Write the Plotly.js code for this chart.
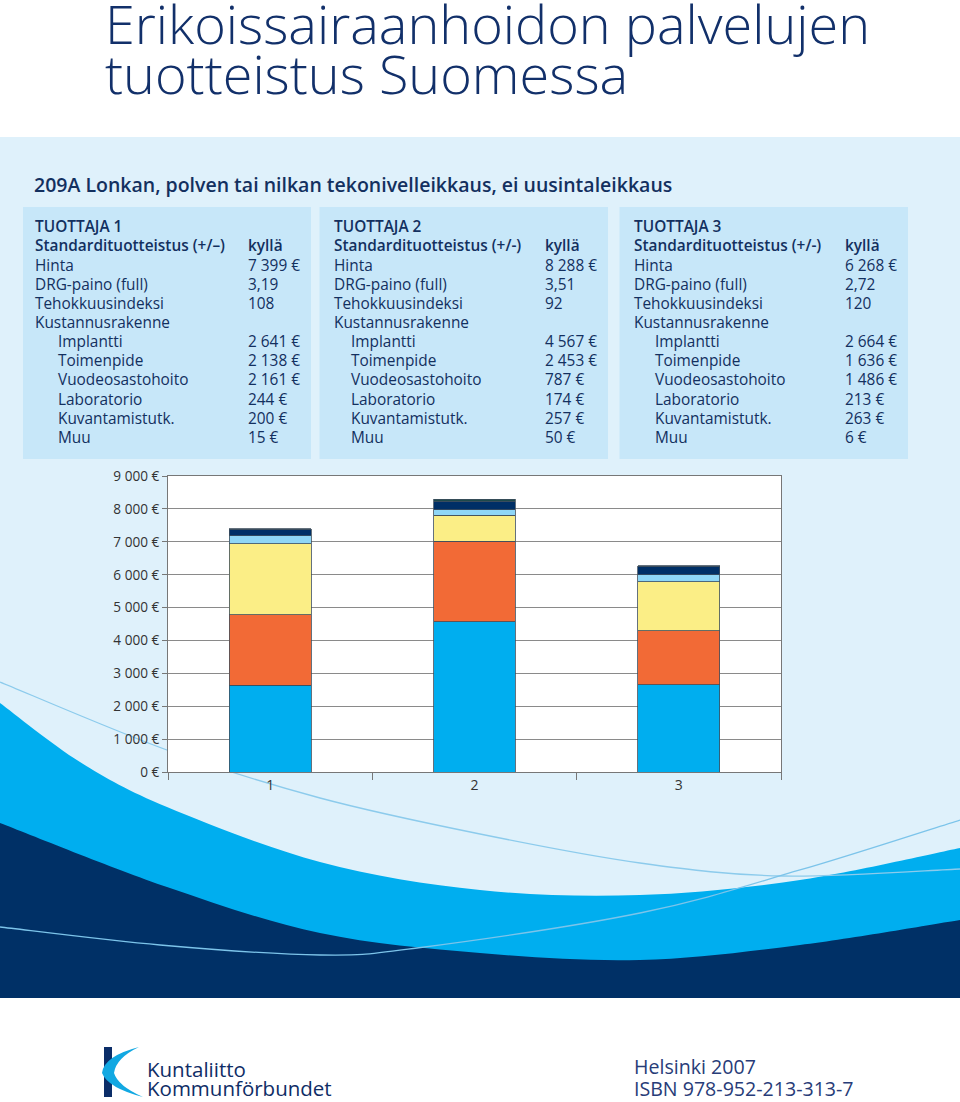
<!DOCTYPE html>
<html>
<head>
<meta charset="utf-8">
<script src="https://cdn.plot.ly/plotly-3.0.1.min.js"></script>
<style>html,body{margin:0;padding:0;background:#fff;}#chart{width:960px;height:1102px;}</style>
</head>
<body>
<div id="chart"></div>
<script>
// ---------- DATA ----------
const categories = ['1', '2', '3'];
const producers = ['TUOTTAJA 1', 'TUOTTAJA 2', 'TUOTTAJA 3'];
const seriesNames = ['Implantti', 'Toimenpide', 'Vuodeosastohoito', 'Laboratorio', 'Kuvantamistutk.', 'Muu'];
const implantti = [2641, 4567, 2664];
const toimenpide = [2138, 2453, 1636];
const vuodeosastohoito = [2161, 787, 1486];
const laboratorio = [244, 174, 213];
const kuvantamistutk = [200, 257, 263];
const muu = [15, 50, 6];
const hinta = [7399, 8288, 6268];
const drgPaino = ['3,19', '3,51', '2,72'];
const tehokkuusindeksi = ['108', '92', '120'];
const standardiLabel = ['Standardituotteistus (+/–)', 'Standardituotteistus (+/-)', 'Standardituotteistus (+/-)'];
const standardiValue = ['kyllä', 'kyllä', 'kyllä'];
const seriesValues = [implantti, toimenpide, vuodeosastohoito, laboratorio, kuvantamistutk, muu];
const seriesColors = ['#00aeef', '#f26a36', '#fbee86', '#8fd6f6', '#002f66', '#1d4a4c'];

// ---------- HELPERS ----------
const W = 960, H = 1102;
const X = px => px / W;
const Y = py => 1 - py / H;
const P = (p) => X(p[0]).toFixed(5) + ',' + Y(p[1]).toFixed(5);
const fmtEur = n => String(n).replace(/\B(?=(\d{3})+(?!\d))/g, ' ') + ' €';
function smooth(pts) {
  let d = 'M' + P(pts[0]);
  for (let i = 0; i < pts.length - 1; i++) {
    const p0 = pts[i - 1] || pts[i], p1 = pts[i], p2 = pts[i + 1], p3 = pts[i + 2] || pts[i + 1];
    const c1 = [p1[0] + (p2[0] - p0[0]) / 6, p1[1] + (p2[1] - p0[1]) / 6];
    const c2 = [p2[0] - (p3[0] - p1[0]) / 6, p2[1] - (p3[1] - p1[1]) / 6];
    d += ' C' + P(c1) + ' ' + P(c2) + ' ' + P(p2);
  }
  return d;
}

const navy = '#13305f';
const shapes = [];
// page background band
shapes.push({type: 'rect', xref: 'paper', yref: 'paper', x0: 0, x1: 1, y0: Y(998), y1: Y(137),
  fillcolor: '#dff1fb', line: {width: 0}, layer: 'below'});
// info boxes
const boxL = [23, 319.5, 619.5], boxR = [311, 608, 908];
for (let i = 0; i < 3; i++) {
  shapes.push({type: 'rect', xref: 'paper', yref: 'paper', x0: X(boxL[i]), x1: X(boxR[i]), y0: Y(459), y1: Y(207),
    fillcolor: '#c7e7f9', line: {width: 0}, layer: 'below'});
}
// waves
const medTop = [[0, 703], [80, 762], [167, 807], [320, 862], [480, 890], [640, 895], [800, 880], [960, 848]];
const darkTop = [[0, 823], [167, 887], [320, 933], [480, 953], [640, 960], [800, 945], [960, 920]];
shapes.push({type: 'path', xref: 'paper', yref: 'paper', layer: 'below',
  path: smooth(medTop) + ' L' + P([960, 998]) + ' L' + P([0, 998]) + ' Z', fillcolor: '#00aeef', line: {width: 0}});
shapes.push({type: 'path', xref: 'paper', yref: 'paper', layer: 'below',
  path: smooth(darkTop) + ' L' + P([960, 998]) + ' L' + P([0, 998]) + ' Z', fillcolor: '#003066', line: {width: 0}});
const line1 = [[0, 682], [167, 750], [320, 798], [480, 834], [640, 863], [783, 876], [960, 869]];
const line2 = [[0, 927], [160, 945], [320, 955], [417, 948], [640, 913], [800, 870], [960, 820]];
shapes.push({type: 'path', xref: 'paper', yref: 'paper', layer: 'below', path: smooth(line1), line: {color: '#8ccbec', width: 1.3}});
shapes.push({type: 'path', xref: 'paper', yref: 'paper', layer: 'below', path: smooth(line2), line: {color: '#7cc4ea', width: 1.3}});
// logo
shapes.push({type: 'rect', xref: 'paper', yref: 'paper', x0: X(104), x1: X(112), y0: Y(1097), y1: Y(1047),
  fillcolor: '#0b2d68', line: {width: 0}, layer: 'below'});
shapes.push({type: 'path', xref: 'paper', yref: 'paper', layer: 'below',
  path: 'M' + P([139, 1047]) + ' Q' + P([104, 1056]) + ' ' + P([102, 1073]) + ' Q' + P([108, 1088]) + ' ' + P([143, 1097]) +
        ' Q' + P([118, 1086]) + ' ' + P([114, 1073]) + ' Q' + P([116, 1058]) + ' ' + P([139, 1047]) + ' Z',
  fillcolor: '#12a8e2', line: {width: 0}});
// white plot background (below grid)
shapes.push({type: 'rect', xref: 'x', yref: 'y', x0: -0.5, x1: 2.5, y0: 0, y1: 9000,
  fillcolor: '#ffffff', line: {width: 0}, layer: 'below'});

// ---------- ANNOTATIONS ----------
const ann = [];
function txt(text, x, baseline, size, opts) {
  opts = opts || {};
  ann.push(Object.assign({
    text: text, xref: 'paper', yref: 'paper', x: X(x), y: Y(baseline - 0.388 * size),
    xanchor: 'left', yanchor: 'middle', showarrow: false, borderpad: 0,
    font: {family: opts.family || 'Open Sans, Noto Sans, sans-serif', size: size, color: opts.color || navy, weight: opts.weight || 400}
  }, opts.extra || {}));
}
// title line 1: clip empty space above ascenders so the box stays inside the page
(function () {
  const fsT = 54, base = 45;
  const bottom = base + 0.293 * fsT;
  ann.push({text: 'Erikoissairaanhoidon palvelujen', xref: 'paper', yref: 'paper', x: X(104), y: Y(bottom),
    xanchor: 'left', yanchor: 'bottom', valign: 'bottom', height: Math.round(bottom - 3), showarrow: false, borderpad: 0,
    font: {family: 'Open Sans, Noto Sans, sans-serif', size: fsT, color: '#12306a', weight: 300}});
})();
txt('tuotteistus Suomessa', 104, 93.5, 54, {weight: 300, color: '#12306a'});
txt('209A Lonkan, polven tai nilkan tekonivelleikkaus, ei uusintaleikkaus', 33, 191.7, 19.5, {weight: 600});

const labelX = [34, 333, 633], indentX = [57, 350, 654], valueX = [246.5, 544, 844];
const rowBase = i => 232.7 + i * 19.15;
const fs = 15.4;
for (let b = 0; b < 3; b++) {
  txt(producers[b], labelX[b], rowBase(0), fs, {weight: 600});
  txt(standardiLabel[b], labelX[b], rowBase(1), fs, {weight: 600});
  txt(standardiValue[b], valueX[b], rowBase(1), fs, {weight: 600});
  txt('Hinta', labelX[b], rowBase(2), fs);
  txt(fmtEur(hinta[b]), valueX[b], rowBase(2), fs);
  txt('DRG-paino (full)', labelX[b], rowBase(3), fs);
  txt(drgPaino[b], valueX[b], rowBase(3), fs);
  txt('Tehokkuusindeksi', labelX[b], rowBase(4), fs);
  txt(tehokkuusindeksi[b], valueX[b], rowBase(4), fs);
  txt('Kustannusrakenne', labelX[b], rowBase(5), fs);
  for (let s = 0; s < seriesNames.length; s++) {
    txt(seriesNames[s], indentX[b], rowBase(6 + s), fs);
    txt(fmtEur(seriesValues[s][b]), valueX[b], rowBase(6 + s), fs);
  }
}
txt('Kuntaliitto', 146, 1077, 20.5, {color: '#0f2d66'});
txt('Kommunförbundet', 146, 1096, 20.5, {color: '#0f2d66'});
txt('Helsinki 2007', 633, 1074.5, 19.6, {color: '#283c78'});
txt('ISBN 978-952-213-313-7', 633, 1096, 19.6, {color: '#283c78'});

// ---------- TRACES ----------
const traces = seriesNames.map((name, i) => ({
  type: 'bar', name: name, x: categories, y: seriesValues[i],
  marker: {color: seriesColors[i], line: {color: '#3d4d5c', width: 0.8}},
  hoverinfo: 'name+y'
}));

const layout = {
  width: W, height: H,
  margin: {l: 0, r: 0, t: 0, b: 0},
  paper_bgcolor: '#ffffff', plot_bgcolor: 'rgba(0,0,0,0)',
  barmode: 'stack', bargap: 0.6, showlegend: false,
  separators: ', ',
  font: {family: 'Open Sans, Noto Sans, sans-serif', color: '#333'},
  xaxis: {
    domain: [X(168), X(781)], type: 'category', range: [-0.5, 2.5],
    tickson: 'boundaries', ticks: 'outside', ticklen: 7, tickcolor: '#777', tickwidth: 1,
    showline: true, linecolor: '#777', linewidth: 1, mirror: true, showgrid: false,
    tickfont: {size: 14, color: '#333'}, automargin: false, fixedrange: true
  },
  yaxis: {
    domain: [Y(772.3), Y(476)], range: [0, 9000], dtick: 1000, tick0: 0,
    tickformat: ',d', ticksuffix: ' €',
    ticks: 'outside', ticklen: 5, tickcolor: '#777', tickwidth: 1,
    showline: true, linecolor: '#777', linewidth: 1, mirror: true,
    showgrid: true, gridcolor: '#8a8a8a', gridwidth: 1, zeroline: false,
    tickfont: {size: 13.6, color: '#333'}, automargin: false, fixedrange: true
  },
  shapes: shapes,
  annotations: ann
};

Plotly.newPlot('chart', traces, layout, {displayModeBar: false, staticPlot: true});
</script>
</body>
</html>
